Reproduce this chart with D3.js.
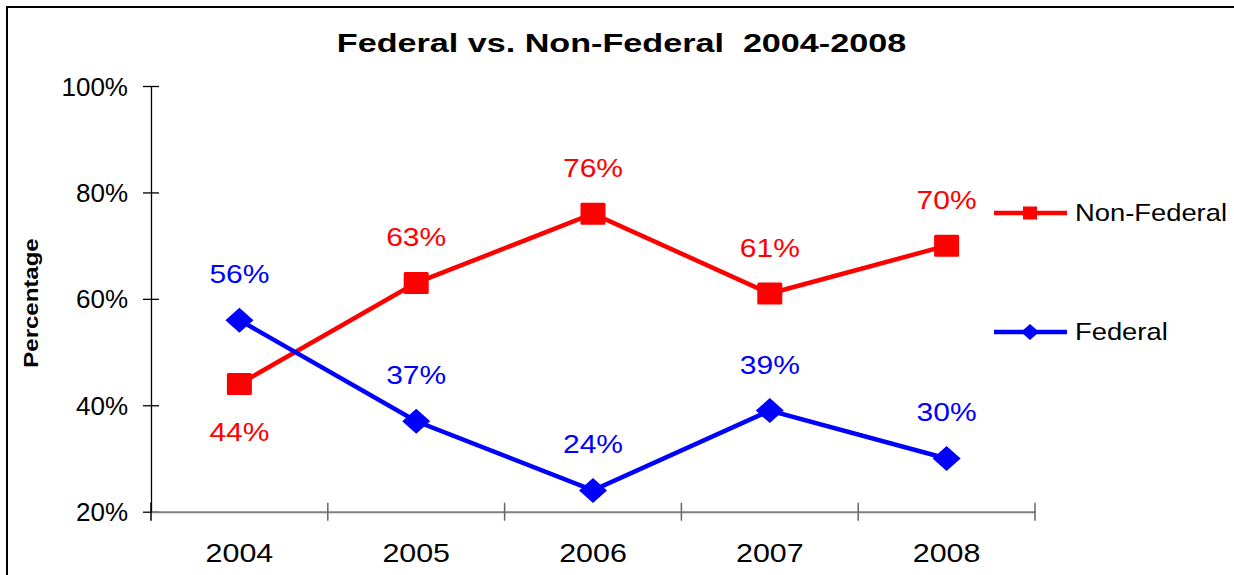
<!DOCTYPE html>
<html>
<head>
<meta charset="utf-8">
<script src="https://cdn.jsdelivr.net/npm/d3@7"></script>
<style>
  html, body { margin: 0; padding: 0; background: #fff; }
  svg { display: block; font-family: "Liberation Sans", Arial, sans-serif; }
</style>
</head>
<body>
<svg id="chart" width="1234" height="575"></svg>
<script>
const years = ["2004", "2005", "2006", "2007", "2008"];
const nonFederal = [44, 63, 76, 61, 70];
const federal = [56, 37, 24, 39, 30];
const yTicks = [20, 40, 60, 80, 100];
const titleText = "Federal vs. Non-Federal  2004-2008";
const yAxisTitle = "Percentage";

const svg = d3.select("#chart");

// frame
svg.append("rect")
  .attr("x", 7).attr("y", 7).attr("width", 1240).attr("height", 600)
  .attr("fill", "none").attr("stroke", "#000").attr("stroke-width", 2);

const plot = { left: 151, right: 1035, top: 86, bottom: 511.7 };

const x = d3.scaleBand().domain(years).range([plot.left, plot.right]).padding(0);
const y = d3.scaleLinear().domain([20, 100]).range([plot.bottom, plot.top]);

// title
svg.append("text")
  .attr("transform", "translate(621.5,52) scale(1.34,1)")
  .attr("text-anchor", "middle")
  .attr("font-weight", "bold")
  .attr("font-size", 25.5)
  .attr("fill", "#000")
  .style("white-space", "pre")
  .attr("xml:space", "preserve")
  .text(titleText);

// y axis title
svg.append("text")
  .attr("transform", "translate(38,303) rotate(-90) scale(1.2,1)")
  .attr("text-anchor", "middle")
  .attr("font-weight", "bold")
  .attr("font-size", 20)
  .attr("fill", "#000")
  .text(yAxisTitle);

// y axis
const yAxis = d3.axisLeft(y).tickValues(yTicks).tickFormat(d => d + "%").tickSizeInner(8).tickSizeOuter(0);
const gy = svg.append("g").attr("transform", `translate(${plot.left},0)`).call(yAxis);
gy.select(".domain").attr("stroke", "#000").attr("stroke-width", 1.3);
gy.selectAll(".tick line").attr("x2", -8).attr("x1", 8).attr("stroke", "#000").attr("stroke-width", 1.3);
gy.selectAll(".tick text")
  .attr("x", null).attr("dy", null)
  .attr("font-size", 25)
  .attr("fill", "#000")
  .attr("font-family", "Liberation Sans, Arial, sans-serif")
  .attr("transform", "translate(-23,9) scale(1.04,1)");

// x axis
const xAxis = d3.axisBottom(x).tickSize(0).tickSizeOuter(0);
const gx = svg.append("g").attr("transform", `translate(0,${plot.bottom})`).call(xAxis);
gx.select(".domain").attr("stroke", "#808080").attr("stroke-width", 2);
gx.selectAll(".tick text")
  .attr("y", null).attr("dy", null)
  .attr("font-size", 26)
  .attr("fill", "#000")
  .attr("font-family", "Liberation Sans, Arial, sans-serif")
  .attr("transform", "translate(0,50) scale(1.17,1)");
// category boundary ticks
const boundaries = years.map(d => x(d)).concat([x(years[years.length - 1]) + x.bandwidth()]);
gx.selectAll("line.bound").data(boundaries).join("line")
  .attr("class", "bound")
  .attr("x1", d => d).attr("x2", d => d)
  .attr("y1", -9).attr("y2", 9)
  .attr("stroke", d => d === plot.left ? "#000" : "#666")
  .attr("stroke-width", 1.5);

const cx = d => x(d) + x.bandwidth() / 2;

function drawSeries(values, color, marker) {
  const pts = values.map((v, i) => [cx(years[i]), y(v)]);
  svg.append("path")
    .attr("d", d3.line()(pts))
    .attr("fill", "none").attr("stroke", color).attr("stroke-width", 4.5)
    .attr("stroke-linejoin", "miter");
  const g = svg.append("g");
  if (marker === "square") {
    g.selectAll("rect").data(pts).join("rect")
      .attr("x", d => d[0] - 12.5).attr("y", d => d[1] - 11)
      .attr("width", 25).attr("height", 22).attr("rx", 1.5)
      .attr("fill", color);
  } else {
    g.selectAll("path").data(pts).join("path")
      .attr("d", d => `M${d[0]},${d[1] - 12.5}L${d[0] + 14},${d[1]}L${d[0]},${d[1] + 12.5}L${d[0] - 14},${d[1]}Z`)
      .attr("fill", color);
  }
}

drawSeries(nonFederal, "#ff0000", "square");
drawSeries(federal, "#0000ff", "diamond");

// data labels
function drawLabels(values, color, above) {
  svg.append("g").selectAll("text").data(values).join("text")
    .attr("transform", (v, i) => {
      const below = !above[i];
      const ty = below ? y(v) + 57 : y(v) - 37;
      return `translate(${cx(years[i])},${ty}) scale(1.2,1)`;
    })
    .attr("text-anchor", "middle")
    .attr("font-size", 25)
    .attr("fill", color)
    .text(v => v + "%");
}
drawLabels(nonFederal, "#ff0000", nonFederal.map((v, i) => v >= federal[i]));
drawLabels(federal, "#0000ff", federal.map(() => true));

// legend
const legend = [
  { name: "Non-Federal", color: "#ff0000", marker: "square", y: 213 },
  { name: "Federal", color: "#0000ff", marker: "diamond", y: 332 }
];
const lg = svg.append("g");
legend.forEach(l => {
  lg.append("line").attr("x1", 994).attr("x2", 1067).attr("y1", l.y).attr("y2", l.y)
    .attr("stroke", l.color).attr("stroke-width", 4.5);
  if (l.marker === "square") {
    lg.append("rect").attr("x", 1023).attr("y", l.y - 6.5).attr("width", 14).attr("height", 13)
      .attr("fill", l.color);
  } else {
    lg.append("path").attr("d", `M1030,${l.y - 8}L1039,${l.y}L1030,${l.y + 8}L1021,${l.y}Z`)
      .attr("fill", l.color);
  }
  lg.append("text")
    .attr("transform", `translate(1075,${l.y + 8}) scale(1.14,1)`)
    .attr("font-size", 24)
    .attr("fill", "#000")
    .text(l.name);
});
</script>
</body>
</html>
